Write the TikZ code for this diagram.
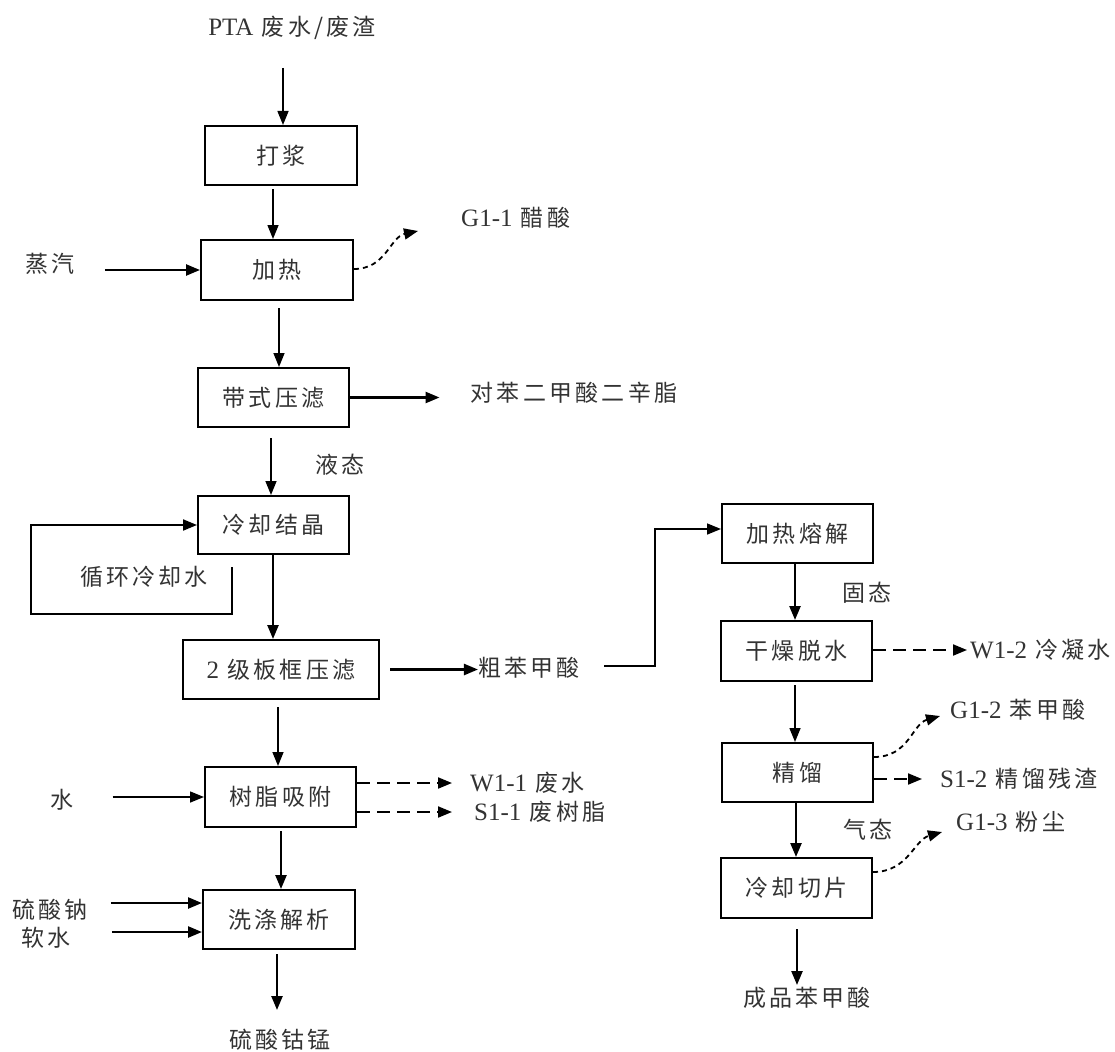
\documentclass[tikz,border=0pt]{standalone}
\usepackage{fontspec}
\setmainfont{Noto Sans CJK SC}[LetterSpace=14]
\newfontfamily\tnr{Liberation Serif}
\usetikzlibrary{arrows.meta,calc}
\newcommand{\cjkfont}{\fontsize{23}{27}\selectfont}
\newcommand{\latin}[1]{{\tnr\fontsize{25}{28}\selectfont #1}}
\tikzset{
  box/.style={draw=black, line width=2pt, minimum height=59pt, inner sep=0pt, text=black!80, font=\cjkfont},
  lab/.style={inner sep=0pt, text=black!80, font=\cjkfont},
  thinarr/.style={line width=1.5pt, -{Triangle[length=14pt,width=11pt]}},
  thickarr/.style={line width=2.4pt, -{Triangle[length=14pt,width=11pt]}},
  dsh/.style={line width=2pt, dash pattern=on 13pt off 7pt, -{Triangle[length=14pt,width=11pt]}},
  curvy/.style={line width=1.8pt, dash pattern=on 5pt off 4pt, -{Triangle[length=14pt,width=11pt]}},
}
\begin{document}
\begin{tikzpicture}[x=1pt,y=-1pt]
\useasboundingbox (0,0) rectangle (1115,1051);

% left column boxes
\node[box, minimum width=152pt] (b1) at (281,155.5) {打浆};
\node[box, minimum width=152pt, minimum height=60pt] (b2) at (277,270) {加热};
\node[box, minimum width=151pt] (b3) at (273.5,397.5) {带式压滤};
\node[box, minimum width=151pt, minimum height=58pt] (b4) at (273.5,525) {冷却结晶};
\node[box, minimum width=196pt] (b5) at (281,669.5) {\latin{2} 级板框压滤};
\node[box, minimum width=151pt, minimum height=60pt] (b6) at (280.5,797) {树脂吸附};
\node[box, minimum width=152pt] (b7) at (279,919.5) {洗涤解析};

% right column boxes
\node[box, minimum width=151pt] (c1) at (797.5,533.5) {加热熔解};
\node[box, minimum width=151pt, minimum height=60pt] (c2) at (796.5,651) {干燥脱水};
\node[box, minimum width=151pt] (c3) at (797.5,772.5) {精馏};
\node[box, minimum width=151pt, minimum height=60pt] (c4) at (796.5,888) {冷却切片};

% labels
\node[lab] (p0) at (292,28) {\latin{PTA} 废水/废渣};
\node[lab] (s1) at (50,264) {蒸汽};
\node[lab, anchor=west] (t1) at (461,218) {\latin{G1-1} 醋酸};
\node[lab] (t3) at (574,393) {对苯二甲酸二辛脂};
\node[lab] (l1) at (340,465) {液态};
\node[lab] (rc) at (144,577) {循环冷却水};
\node[lab] (t5) at (529,668) {粗苯甲酸};
\node[lab] (w0) at (62,800) {水};
\node[lab, anchor=west] (t6a) at (470,783) {\latin{W1-1} 废水};
\node[lab, anchor=west] (t6b) at (474,812) {\latin{S1-1} 废树脂};
\node[lab] (n1) at (50,910) {硫酸钠};
\node[lab] (n2) at (46,938) {软水};
\node[lab] (q7) at (280,1040) {硫酸钴锰};
\node[lab] (l2) at (867,593) {固态};
\node[lab, anchor=west] (t8) at (970,650) {\latin{W1-2} 冷凝水};
\node[lab, anchor=west] (t10) at (950,710) {\latin{G1-2} 苯甲酸};
\node[lab, anchor=west] (t9) at (940,779) {\latin{S1-2} 精馏残渣};
\node[lab] (l3) at (868,830) {气态};
\node[lab, anchor=west] (t11) at (956,822) {\latin{G1-3} 粉尘};
\node[lab] (q8) at (807,998) {成品苯甲酸};

% column coordinates
\coordinate (xa) at (283,0);
\coordinate (xb) at (273,0);
\coordinate (xc) at (279,0);
\coordinate (xd) at (271,0);
\coordinate (xe) at (273,0);
\coordinate (xf) at (278,0);
\coordinate (xg) at (281,0);
\coordinate (xh) at (277,0);
\coordinate (xi) at (795,0);
\coordinate (xj) at (796,0);
\coordinate (xk) at (797,0);
\coordinate (o1) at (277,1010);
\coordinate (o2) at (797,985);

% vertical flow (left)
\draw[thinarr] (p0 -| xa) ++(0,40) -- (b1.north -| xa);
\draw[thinarr] (b1.south -| xb) ++(0,3) -- (b2.north -| xb);
\draw[thinarr] (b2.south -| xc) ++(0,7) -- (b3.north -| xc);
\draw[thinarr] (b3.south -| xd) ++(0,10) -- (b4.north -| xd);
\draw[thickarr] (b4.south -| xe) -- (b5.north -| xe);
\draw[thinarr] (b5.south -| xf) ++(0,7) -- (b6.north -| xf);
\draw[thickarr] (b6.south -| xg) ++(0,3) -- (b7.north -| xg);
\draw[thickarr] (b7.south -| xh) ++(0,4) -- (o1);

% vertical flow (right)
\draw[thickarr] (c1.south -| xi) -- (c2.north -| xi);
\draw[thinarr] (c2.south -| xi) ++(0,3) -- (c3.north -| xi);
\draw[thickarr] (c3.south -| xj) -- (c4.north -| xj);
\draw[thickarr] (c4.south -| xk) ++(0,10) -- (o2);

% inputs
\draw[thickarr] (s1.east) ++(30,6) -- (b2.west);
\draw[thinarr] (w0.east) ++(39,-3) -- (b6.west);
\draw[thickarr] (n1.east) ++(23,-7) -- ([yshift=16.5pt]b7.west);
\draw[thickarr] (n2.east) ++(41,-6) -- ([yshift=-12.5pt]b7.west);

% recycle loop
\coordinate (r1) at (232,567);
\coordinate (r2) at (31,614);
\draw[line width=2pt, -{Triangle[length=14pt,width=11pt]}] (r1) |- (r2) |- (b4.west);

% outputs left
\draw[thickarr, shorten >=31pt] (b3.east) -- (b3.east -| t3.west);
\draw[thickarr, shorten <=10pt] (b5.east) -- (b5.east -| t5.west);
\coordinate (k1) at (655,529);
\draw[thinarr] (t5.east) ++(24,-2) -| (k1) -- (k1 -| c1.west);
\draw[dsh] (b6.east |- t6a.west) -- ([xshift=-18pt]t6a.west);
\draw[dsh] (b6.east |- t6b.west) -- ([xshift=-22pt]t6b.west);
\draw[curvy] ([yshift=1pt]b2.east) .. controls +(32,0) and +(-28,6) .. ([xshift=-43pt,yshift=-13pt]t1.west);

% outputs right
\draw[dsh] (c2.east |- t8.west) -- ([xshift=-3pt]t8.west);
\draw[dsh] (c3.east |- t9.west) -- ([xshift=-18pt]t9.west);
\draw[curvy] ([yshift=15.5pt]c3.east) .. controls +(35,0) and +(-28,8) .. ([xshift=-10pt,yshift=-6pt]t10.west);
\draw[curvy] ([yshift=16pt]c4.east) .. controls +(35,0) and +(-28,8) .. ([xshift=-14pt,yshift=-10pt]t11.west);
\end{tikzpicture}
\end{document}
